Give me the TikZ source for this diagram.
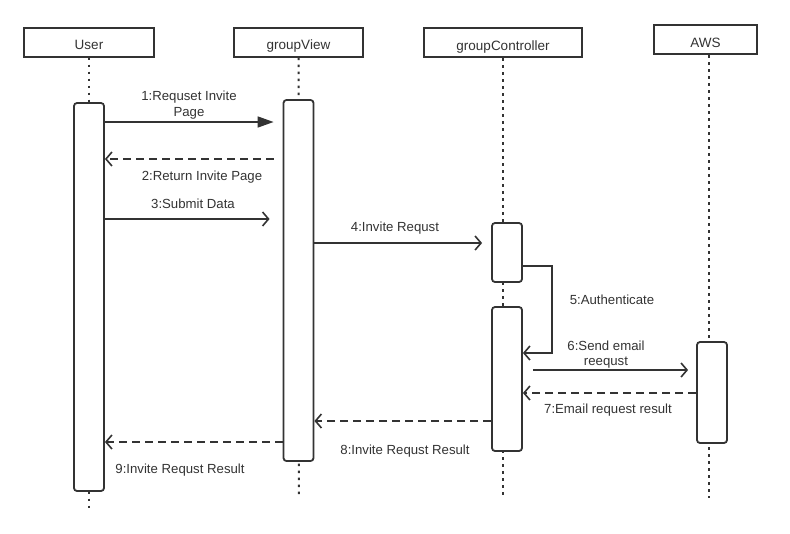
\documentclass[tikz,border=0pt]{standalone}
\usepackage{fontspec}
\setmainfont{Liberation Sans}
\usetikzlibrary{arrows.meta}
\definecolor{ink}{HTML}{333333}
\begin{document}
\begin{tikzpicture}[x=1pt,y=-1pt,
  font=\fontsize{13.5}{15}\selectfont,
  head/.style={draw=ink,line width=2pt,fill=white,inner sep=0pt,minimum height=29pt,text=ink,text height=15pt,text depth=0pt},
  act/.style={draw=ink,line width=1.8pt,fill=white,rounded corners=3pt,minimum width=30pt,inner sep=0pt},
  life/.style={draw=ink,line width=2pt,dash pattern=on 2.5pt off 4.5pt},
  msg/.style={draw=ink,line width=1.6pt},
  ret/.style={msg,dash pattern=on 8pt off 5pt},
  open/.style={-{Straight Barb[length=6pt,width=14pt,line width=1.6pt]}},
  solidtip/.style={-{Triangle[length=16pt,width=11pt]}},
  lbl/.style={text=ink,inner sep=0pt,align=center,font=\fontsize{13.2}{15.5}\selectfont}]
\useasboundingbox (0,0) rectangle (790,533);
% headers
\node[head,minimum width=130pt] (hu) at (89,42) {User};
\node[head,minimum width=129pt] (hv) at (298.5,42) {groupView};
\node[head,minimum width=158pt] (hc) at (503,42.5) {groupController};
\node[head,minimum width=103pt] (ha) at (705.5,39.5) {AWS};
% lifeline ends
\coordinate (eu) at (89,508);
\coordinate (ev) at (299,498);
\coordinate (ec) at (503,496);
\coordinate (ea) at (709,498);
\draw[life] (hu.south) -- (eu);
\draw[life] (hv.south) -- (ev);
\draw[life] (hc.south) -- (ec);
\draw[life] (ha.south -| ea) -- (ea);
% activations
\node[act,minimum height=388pt] (au) at (89,297) {};
\node[act,minimum height=361pt] (av) at (298.5,280.5) {};
\node[act,minimum height=59pt] (ac1) at (507,252.5) {};
\node[act,minimum height=144pt] (ac2) at (507,379) {};
\node[act,minimum height=101pt] (aa) at (712,392.5) {};
% 1
\draw[msg,solidtip,shorten >=9pt] (au.east |- 0,122) -- (av.west |- 0,122);
\node[lbl] (l1) at (189,105) {1:Requset Invite\\Page};
% 2
\draw[ret,open,shorten <=9pt] (av.west |- 0,159) -- (au.east |- 0,159);
\node[lbl] (l2) at (202,177.5) {2:Return Invite Page};
% 3
\draw[msg,open,shorten >=13pt] (au.east |- 0,219) -- (av.west |- 0,219);
\node[lbl] (l3) at (193,204) {3:Submit Data};
% 4
\draw[msg,open,shorten >=9pt] (av.east |- 0,243) -- (ac1.west |- 0,243);
\node[lbl] (l4) at (395,228.5) {4:Invite Requst};
% 5
\coordinate (c5a) at (552,266);
\coordinate (c5b) at (552,353);
\draw[msg,open] (ac1.east |- c5a) -- (c5a) -- (c5b) -- (ac2.east |- c5b);
\node[lbl] (l5) at (612,300) {5:Authenticate};
% 6
\draw[msg,open,shorten <=10pt,shorten >=8pt] (ac2.east |- 0,370) -- (aa.west |- 0,370);
\node[lbl] (l6) at (606,354.5) {6:Send email\\reequst};
% 7
\draw[ret,open] (aa.west |- 0,393) -- (ac2.east |- 0,393);
\node[lbl] (l7) at (608,410) {7:Email request result};
% 8
\draw[ret,open] (ac2.west |- 0,421) -- (av.east |- 0,421);
\node[lbl] (l8) at (405,451) {8:Invite Requst Result};
% 9
\draw[ret,open] (av.west |- 0,442) -- (au.east |- 0,442);
\node[lbl] (l9) at (180,470) {9:Invite Requst Result};
\end{tikzpicture}
\end{document}
